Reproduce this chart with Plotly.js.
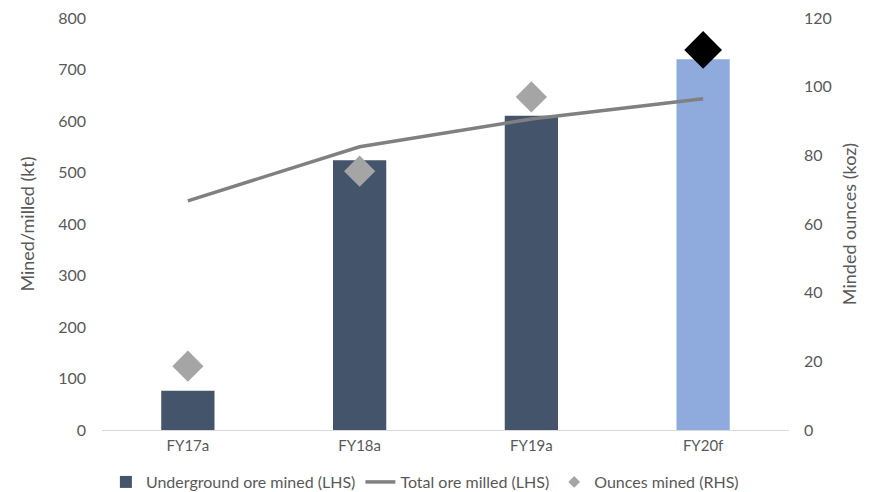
<!DOCTYPE html>
<html><head><meta charset="utf-8">
<script src="https://cdn.plot.ly/plotly-3.0.1.min.js"></script>
<style>html,body{margin:0;padding:0;background:#fff}#c{width:879px;height:492px}</style>
</head><body><div id="c"></div>
<script>
const categories = ["FY17a", "FY18a", "FY19a", "FY20f"];
const undergroundMined = [76, 524, 610, 720];
const totalMilled = [445, 550, 604, 643];
const ouncesMined = [18.6, 75.4, 97, 110.7];
const barColors = ["#44546A", "#44546A", "#44546A", "#8FAADC"];
const diamondColors = ["#A5A5A5", "#A5A5A5", "#A5A5A5", "#000000"];
const diamondSizes = [24, 24, 24, 29];

const font = {family: "Lato, 'Open Sans', sans-serif", color: "#595959"};
const f = s => Object.assign({size: s}, font);
const traces = [
  {type: "bar", name: "Underground ore mined (LHS)", x: categories, y: undergroundMined,
   marker: {color: barColors, line: {width: 0}}, width: 0.31},
  {type: "scatter", mode: "lines", name: "Total ore milled (LHS)", x: categories, y: totalMilled,
   line: {color: "#808080", width: 3.5}},
  {type: "scatter", mode: "markers", name: "Ounces mined (RHS)", x: categories, y: ouncesMined, yaxis: "y2",
   showlegend: false, legendgroup: "oz",
   marker: {symbol: "diamond", color: diamondColors, size: diamondSizes, opacity: 1, line: {width: 0}}},
  {type: "scatter", mode: "markers", name: "Ounces mined (RHS)", x: [null], y: [null], yaxis: "y2",
   legendgroup: "oz", marker: {symbol: "diamond", color: "#A5A5A5", size: 9, line: {width: 0}}}
];
const layout = {
  width: 879, height: 492,
  margin: {l: 102, r: 90, t: 18, b: 62, autoexpand: false},
  paper_bgcolor: "#fff", plot_bgcolor: "#fff",
  font: f(15),
  showlegend: true,
  legend: {orientation: "h", x: 0.47, xanchor: "center", y: -0.085, yanchor: "top",
           font: f(16), traceorder: "normal"},
  xaxis: {showline: true, linecolor: "#D9D9D9", linewidth: 1, ticks: "", showgrid: false,
          tickfont: f(15), zeroline: false, ticklabelstandoff: 2},
  yaxis: {range: [0, 800], dtick: 100, showgrid: false, zeroline: false, showline: false,
          tickfont: f(16), ticks: "", ticklabelstandoff: 15,
          title: {text: "Mined/milled (kt)", font: f(18), standoff: 18}},
  yaxis2: {range: [0, 120], dtick: 20, overlaying: "y", side: "right", showgrid: false, zeroline: false,
           tickfont: f(16), ticks: "", ticklabelstandoff: 14,
           title: {text: "Minded ounces (koz)", font: f(18), standoff: 12}}
};
Plotly.newPlot("c", traces, layout, {displayModeBar: false, staticPlot: true});
</script></body></html>
